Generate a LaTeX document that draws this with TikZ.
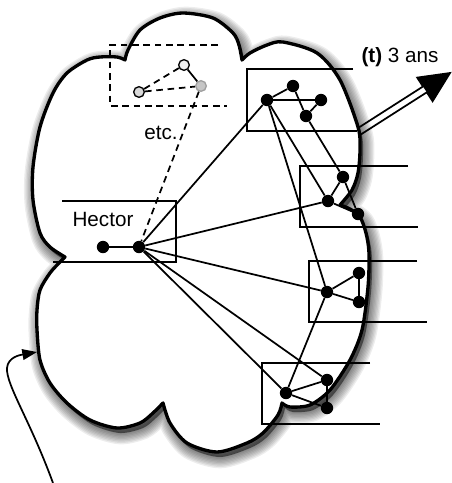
\documentclass[tikz,border=0pt]{standalone}
\usepackage{fontspec}
\setmainfont{Liberation Sans}
\usetikzlibrary{arrows.meta}
\tikzset{
  slice/.style={line width=1.3pt},
  edge/.style={line width=1.3pt},
  dashedge/.style={line width=1.3pt, dash pattern=on 5pt off 3.5pt},
  dot/.style={circle, fill=black, inner sep=0pt, minimum size=9.3pt},
  gdot/.style={circle, draw=black, line width=1pt, inner sep=0pt, minimum size=8pt},
  lab/.style={font=\fontsize{15.5pt}{17pt}\selectfont, inner sep=0pt}
}
\def\cloudpath{
  plot[smooth] coordinates {(65,257) (50,247) (40,233) (33,200) (33,167) (40,127) (53,93) (67,73) (87,60) (100,57) (117,57) (125,60)}
  -- plot[smooth] coordinates {(125,60) (128,50) (140,30) (160,18) (183,13) (213,18) (233,33) (239,45) (242,60)}
  -- plot[smooth] coordinates {(242,60) (250,53) (267,45) (283,42) (317,53) (340,80) (358,127) (360,150) (358,173) (352,190) (340,205)}
  -- plot[smooth] coordinates {(340,205) (350,209) (360,217) (366,233) (369,253) (368,287) (362,330) (350,360) (330,390) (310,405) (290,407) (282,403)}
  -- plot[smooth] coordinates {(282,403) (278,415) (263,433) (247,443) (217,452) (187,443) (170,423) (163,403)}
  -- plot[smooth] coordinates {(163,403) (153,413) (140,423) (117,428) (90,420) (67,403) (50,383) (40,360) (37,330) (37,310) (40,290) (50,273) (60,262) (65,257)}
  -- cycle}
\begin{document}
\begin{tikzpicture}[x=0.75pt,y=-0.75pt]
\useasboundingbox (0,0) rectangle (451,483);

% big time arrow
\draw[line width=1.3pt, fill=white, line join=miter]
  (350.1,133.1) -- (423.0,86.5) -- (417.2,77.6) -- (450,73) -- (432.6,101.2) -- (426.8,92.3) -- (353.9,138.9) -- cycle;
\fill (417.2,77.6) -- (450,73) -- (432.6,101.2) -- cycle;

% cloud shadow (soft)
\begin{scope}[shift={(3,5)}]
\foreach \w in {1,3,...,17} {
  \draw[black, opacity=0.07, line width=\w pt, line join=round] \cloudpath;
}
\fill[black, opacity=0.5] \cloudpath;
\end{scope}
% cloud
\draw[line width=2.5pt, line join=round, fill=white] \cloudpath;

% slices
\draw[slice] (62,201) -- (176,201) -- (176,262) -- (53,262);
\draw[slice] (353,69) -- (247,69) -- (247,131) -- (357,131);
\draw[slice] (408,166) -- (300,166) -- (300,227) -- (418,227);
\draw[slice] (417,261) -- (309,261) -- (309,322) -- (427,322);
\draw[slice] (370,363) -- (262,363) -- (262,424) -- (380,424);
\draw[dashedge] (218,45) -- (110,45) -- (110,106) -- (227,106);

% nodes
\node[dot] (h1) at (103,247) {};
\node[dot] (h2) at (139,247) {};
\node[dot] (a) at (267,100) {};
\node[dot] (b) at (293,86) {};
\node[dot] (c) at (321,100) {};
\node[dot] (d) at (306,116) {};
\node[dot] (e) at (328,201) {};
\node[dot] (f) at (343,177) {};
\node[dot] (g) at (358,214) {};
\node[dot] (hh) at (327,292) {};
\node[dot] (i) at (359,273) {};
\node[dot] (j) at (359,302) {};
\node[dot] (k) at (286,393) {};
\node[dot] (l) at (327,380) {};
\node[dot] (m) at (327,408) {};
\node[gdot, fill=gray!30] (n1) at (139,92) {};
\node[gdot, fill=gray!12] (n2) at (184,65) {};
\node[gdot, fill=gray!45, draw=gray!75] (n3) at (201,86) {};

% edges
\draw[edge] (h1) -- (h2);
\draw[edge] (h2) -- (a);
\draw[edge] (h2) -- (e);
\draw[edge] (h2) -- (hh);
\draw[edge] (h2) -- (k);
\draw[edge] (h2) -- (l);
\draw[edge] (a) -- (b);
\draw[edge] (a) -- (c);
\draw[edge] (b) -- (d);
\draw[edge] (c) -- (d);
\draw[edge] (e) -- (f);
\draw[edge] (f) -- (g);
\draw[edge] (e) -- (g);
\draw[edge] (hh) -- (i);
\draw[edge] (i) -- (j);
\draw[edge] (hh) -- (j);
\draw[edge] (k) -- (l);
\draw[edge] (l) -- (m);
\draw[edge] (k) -- (m);
\draw[edge] (a) -- (e);
\draw[edge] (a) -- (hh);
\draw[edge] (d) -- (f);
\draw[edge] (hh) -- (k);
\draw[dashedge] (n1) -- (n2);
\draw[dashedge] (n1) -- (n3);
\draw[edge] (n2) -- (n3);
\draw[dashedge] (n3) -- (h2);

% labels
\node[lab] (hector) at (103,219) {Hector};
\node[lab] (etc) at (161,133) {etc.};
\node[lab] (tlab) at (400,57) {\textbf{(t)} 3 ans};

% pointer arrow
\coordinate (pstart) at (53,483);
\coordinate (pend) at (37,352);
\draw[line width=1.3pt, -{Triangle[length=11pt,width=8pt]}]
  (pstart) .. controls (30,420) and (6,385) .. (7,368) .. controls (8,357) and (20,355) .. (pend);
\end{tikzpicture}
\end{document}
